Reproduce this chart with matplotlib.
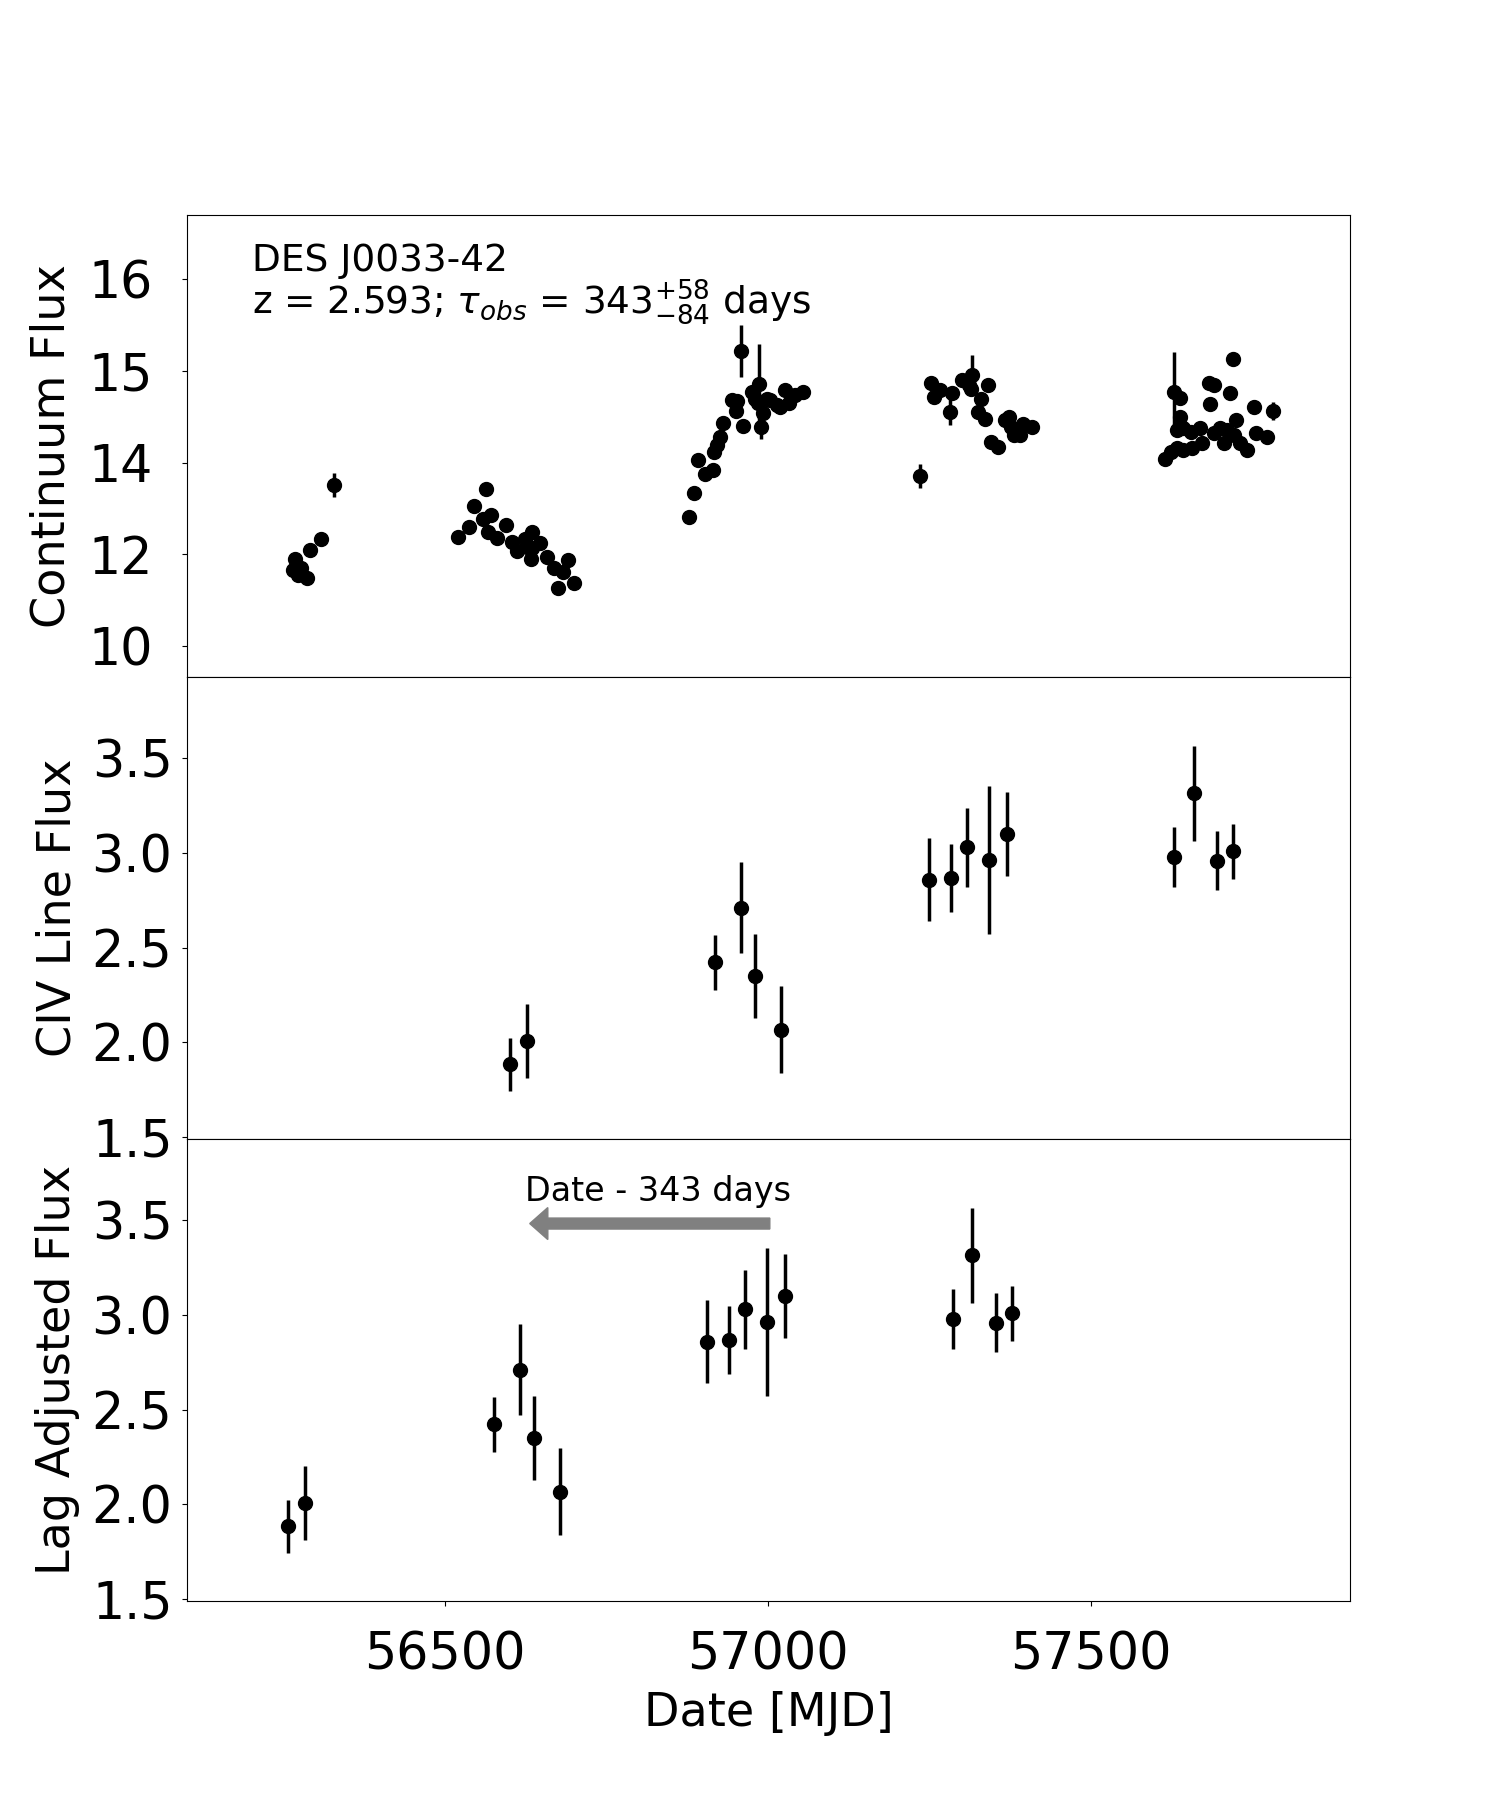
import numpy as np
import matplotlib
matplotlib.use("Agg")
import matplotlib.pyplot as plt

# continuum light curve (y in axis units: ticks at 10,12,14,16,18 are labelled 10,12,14,15,16)
cont_mjd = [56264, 56267, 56272, 56277, 56286, 56291, 56307, 56328,
            56520, 56537, 56545, 56564, 56558, 56571, 56566, 56580, 56594, 56603,
            56611, 56624, 56635, 56626, 56635, 56647, 56633, 56657, 56668, 56691,
            56683, 56675, 56699,
            56878, 56886, 56891, 56903, 56915, 56916, 56921, 56926, 56931, 56944,
            56951, 56952, 56958, 56962, 56975, 56980, 56984, 56987, 56990, 56992,
            56998, 57003, 57014, 57019, 57027, 57032, 57042, 57054,
            57236, 57253, 57258, 57267, 57282, 57285, 57301, 57311, 57315, 57316,
            57325, 57330, 57337, 57341, 57346, 57357, 57368, 57374, 57376, 57381,
            57391, 57395, 57409,
            57616, 57624, 57629, 57634, 57634, 57638, 57638, 57644, 57644, 57655,
            57657, 57669, 57673, 57683, 57685, 57691, 57691, 57701, 57707, 57712,
            57716, 57721, 57723, 57726, 57732, 57743, 57753, 57757, 57773, 57783]
cont_flux = [11.66, 11.89, 11.55, 11.70, 11.48, 12.09, 12.34, 13.51,
             12.38, 12.59, 13.06, 13.42, 12.78, 12.86, 12.49, 12.35, 12.64, 12.28,
             12.07, 12.33, 12.49, 12.17, 12.13, 12.24, 11.89, 11.95, 11.70, 11.88,
             11.61, 11.27, 11.38,
             12.82, 13.33, 14.05, 13.76, 13.83, 14.23, 14.38, 14.56, 14.87, 15.36,
             15.12, 15.34, 16.43, 14.81, 15.54, 15.39, 15.29, 15.72, 14.78, 15.09,
             15.39, 15.36, 15.26, 15.21, 15.58, 15.29, 15.47, 15.53,
             13.71, 15.73, 15.44, 15.58, 15.11, 15.52, 15.80, 15.69, 15.60, 15.91,
             15.11, 15.38, 14.96, 15.69, 14.46, 14.35, 14.93, 14.99, 14.77, 14.60,
             14.60, 14.85, 14.78,
             14.09, 14.24, 15.54, 14.31, 14.71, 15.40, 15.00, 14.27, 14.75, 14.67,
             14.31, 14.75, 14.42, 15.74, 15.28, 15.69, 14.64, 14.75, 14.42, 14.71,
             15.51, 16.27, 14.60, 14.93, 14.42, 14.27, 15.22, 14.64, 14.56, 15.13]
cont_err = [0.1] * len(cont_flux)
big_err = {7: 0.26, 43: 0.56, 48: 0.87, 49: 0.26, 59: 0.27, 63: 0.29, 68: 0.44,
           73: 0.15, 84: 0.87, 111: 0.2}
for i, e in big_err.items():
    cont_err[i] = e
cont_ticks = [10, 12, 14, 16, 18]
cont_ticklabels = ["10", "12", "14", "15", "16"]

# CIV line flux
civ_mjd = [56600, 56626, 56918, 56959, 56980, 57021, 57249, 57283, 57308,
           57342, 57370, 57630, 57660, 57696, 57721]
civ_flux = [1.885, 2.006, 2.424, 2.71, 2.35, 2.067, 2.86, 2.867, 3.03,
            2.964, 3.10, 2.98, 3.315, 2.96, 3.01]
civ_err = [0.14, 0.195, 0.145, 0.24, 0.22, 0.23, 0.22, 0.18, 0.21,
           0.39, 0.22, 0.16, 0.25, 0.155, 0.145]
lag = 343

FS_TICK = 36.5
FS_LABEL = 33.2


def plot_panel(ax, x, y, yerr):
    ax.errorbar(x, y, yerr=yerr, fmt="o", color="k", ms=10, elinewidth=2.5, capsize=0)


def main():
    fig, axes = plt.subplots(3, 1, figsize=(15, 18), dpi=100, sharex=True)
    fig.subplots_adjust(left=0.1247, right=0.9, top=0.8806, bottom=0.1106, hspace=0)
    ax1, ax2, ax3 = axes

    plot_panel(ax1, cont_mjd, cont_flux, cont_err)
    ax1.set_ylim(9.33, 19.4)
    ax1.set_yticks(cont_ticks)
    ax1.set_yticklabels(cont_ticklabels)
    ax1.set_ylabel("Continuum Flux", fontsize=FS_LABEL)
    ax1.text(0.056, 0.878, "DES J0033-42", transform=ax1.transAxes, fontsize=27,
             va="baseline")
    ax1.text(0.056, 0.787, r"z = 2.593; $\tau_{obs}$ = 343$^{+58}_{-84}$ days",
             transform=ax1.transAxes, fontsize=27, va="baseline")

    plot_panel(ax2, civ_mjd, civ_flux, civ_err)
    ax2.set_ylabel("CIV Line Flux", fontsize=FS_LABEL)

    lag_mjd = np.array(civ_mjd) - lag
    plot_panel(ax3, lag_mjd, civ_flux, civ_err)
    ax3.set_ylabel("Lag Adjusted Flux", fontsize=FS_LABEL)
    ax3.arrow(57003, 3.483, -372, 0, width=0.058, head_width=0.169, head_length=28,
              length_includes_head=True, color="gray")
    ax3.text(56623, 3.60, "Date - " + str(lag) + " days", fontsize=24, va="baseline")

    for ax in (ax2, ax3):
        ax.set_ylim(1.49, 3.93)
        ax.set_yticks([1.5, 2.0, 2.5, 3.0, 3.5])
        ax.tick_params(axis="y", labelsize=FS_TICK, pad=7)

    ax1.tick_params(axis="y", labelsize=FS_TICK, pad=21)
    for ax in (ax1, ax2):
        ax.tick_params(axis="x", bottom=False)

    ax3.set_xlim(56100, 57902)
    ax3.set_xticks([56500, 57000, 57500])
    ax3.tick_params(axis="x", labelsize=FS_TICK, pad=18)
    ax3.set_xlabel("Date [MJD]", fontsize=FS_LABEL, labelpad=7)

    ax1.yaxis.set_label_coords(-0.097, 0.5)
    ax2.yaxis.set_label_coords(-0.092, 0.5)
    ax3.yaxis.set_label_coords(-0.092, 0.5)

    plt.savefig("out.png", dpi=100)


if __name__ == "__main__":
    main()
